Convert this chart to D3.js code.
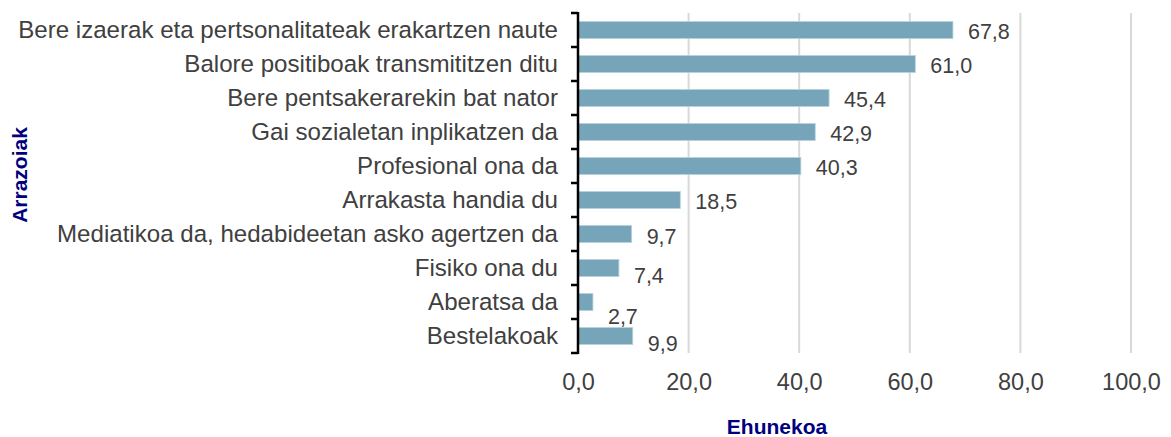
<!DOCTYPE html>
<html><head><meta charset="utf-8">
<script src="https://cdn.jsdelivr.net/npm/d3@7"></script>
<style>
html,body{margin:0;padding:0;background:#fff;}
svg{display:block;font-family:"Liberation Sans",Arial,sans-serif;}
</style></head>
<body>
<svg id="chart" width="1171" height="437"></svg>
<script>
const categories = [
  "Bere izaerak eta pertsonalitateak erakartzen naute",
  "Balore positiboak transmititzen ditu",
  "Bere pentsakerarekin bat nator",
  "Gai sozialetan inplikatzen da",
  "Profesional ona da",
  "Arrakasta handia du",
  "Mediatikoa da, hedabideetan asko agertzen da",
  "Fisiko ona du",
  "Aberatsa da",
  "Bestelakoak"
];
const values = [67.8, 61.0, 45.4, 42.9, 40.3, 18.5, 9.7, 7.4, 2.7, 9.9];
const xTicks = [0, 20, 40, 60, 80, 100];
const xTitle = "Ehunekoa";
const yTitle = "Arrazoiak";

// label vertical nudges (style only)
const labelNudge = {6: 1, 7: 6, 8: 13, 9: 6};

const fmt = v => d3.format(".1f")(v).replace(".", ",");

const svg = d3.select("#chart");
const x = d3.scaleLinear().domain([0, 100]).range([578, 1131]);
const y = d3.scaleBand().domain(categories).range([13, 353]).paddingInner(0.5).paddingOuter(0.25);

// gridlines
svg.append("g").selectAll("line").data(xTicks.filter(d => d > 0)).join("line")
  .attr("x1", d => x(d)).attr("x2", d => x(d))
  .attr("y1", 13).attr("y2", 353)
  .attr("stroke", "#d9d9d9").attr("stroke-width", 2);

// bars
svg.append("g").selectAll("rect").data(values).join("rect")
  .attr("x", x(0))
  .attr("y", (d, i) => y(categories[i]))
  .attr("width", d => x(d) - x(0))
  .attr("height", y.bandwidth())
  .attr("fill", "#76a5ba")
  .attr("stroke", "#b9d2dd").attr("stroke-width", 0.8);

// value labels
svg.append("g").selectAll("text").data(values).join("text")
  .attr("x", d => x(d) + 15)
  .attr("y", (d, i) => y(categories[i]) + y.bandwidth() / 2 + 1 + (labelNudge[i] || 0))
  .attr("dy", "0.35em")
  .attr("font-size", 21.5)
  .attr("fill", "#404040")
  .text(d => fmt(d));

// y axis
const yAxis = d3.axisLeft(y).tickSize(0).tickPadding(20);
const yg = svg.append("g").attr("transform", `translate(${x(0)},0)`).call(yAxis);
yg.select(".domain").remove();
yg.selectAll("text").attr("font-size", 24.1).attr("fill", "#404040")
  .attr("font-family", "Liberation Sans, Arial, sans-serif");

// band boundary ticks + axis line
const bounds = categories.map(c => y(c) - y.step() * y.paddingInner() / 2);
bounds.push(y.range()[1]);
svg.append("g").selectAll("line").data(bounds).join("line")
  .attr("x1", x(0) - 7).attr("x2", x(0))
  .attr("y1", d => d).attr("y2", d => d)
  .attr("stroke", "#000").attr("stroke-width", 2.5);
svg.append("line")
  .attr("x1", x(0)).attr("x2", x(0))
  .attr("y1", 12).attr("y2", 354)
  .attr("stroke", "#000").attr("stroke-width", 2.5);

// x axis labels
const xAxis = d3.axisBottom(x).tickValues(xTicks).tickSize(0).tickPadding(0).tickFormat(fmt);
const xg = svg.append("g").attr("transform", `translate(0,373)`).call(xAxis);
xg.select(".domain").remove();
xg.selectAll("text").attr("font-size", 23.5).attr("fill", "#404040")
  .attr("font-family", "Liberation Sans, Arial, sans-serif");

// axis titles
svg.append("text").attr("x", 777).attr("y", 434)
  .attr("text-anchor", "middle").attr("font-size", 21).attr("font-weight", "bold")
  .attr("fill", "#00007f").text(xTitle);
svg.append("text")
  .attr("transform", `translate(27,175) rotate(-90)`)
  .attr("text-anchor", "middle").attr("font-size", 21).attr("font-weight", "bold")
  .attr("fill", "#00007f").text(yTitle);
</script>
</body></html>
